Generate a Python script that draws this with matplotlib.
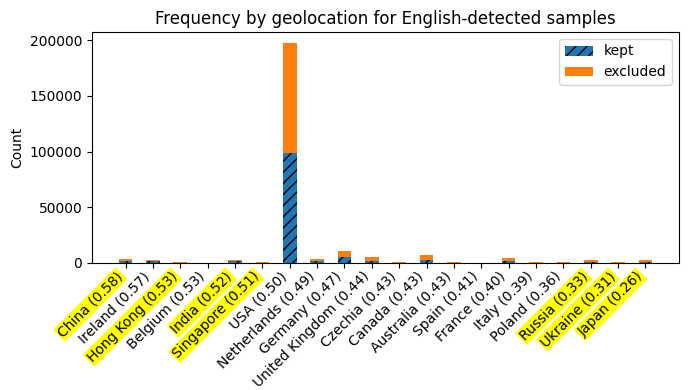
import matplotlib
matplotlib.use("Agg")
import matplotlib.pyplot as plt
import numpy as np

countries = ["China", "Ireland", "Hong Kong", "Belgium", "India", "Singapore", "USA",
             "Netherlands", "Germany", "United Kingdom", "Czechia", "Canada", "Australia",
             "Spain", "France", "Italy", "Poland", "Russia", "Ukraine", "Japan"]
scores = [0.58, 0.57, 0.53, 0.53, 0.52, 0.51, 0.50, 0.49, 0.47, 0.44, 0.43, 0.43, 0.43,
          0.41, 0.40, 0.39, 0.36, 0.33, 0.31, 0.26]
kept = [2000, 1500, 300, 50, 1500, 300, 98500, 2000, 5500, 2000, 200, 3000, 200,
        50, 1800, 200, 200, 1200, 200, 1200]
excluded = [1900, 1500, 900, 100, 1500, 900, 99000, 1800, 5500, 3800, 800, 4200, 800,
            100, 2700, 800, 800, 1600, 800, 1600]
highlighted = ["China", "Hong Kong", "India", "Singapore", "Russia", "Ukraine", "Japan"]

labels = [f"{c} ({s:.2f})" for c, s in zip(countries, scores)]
x = np.arange(len(countries))

fig, ax = plt.subplots(figsize=(6.9, 3.9), dpi=100)
fig.subplots_adjust(left=92/690, right=679/690, top=1-32/390, bottom=1-263/390)
ax.bar(x, kept, width=0.5, color="#1f77b4", hatch="///", label="kept")
ax.bar(x, excluded, width=0.5, bottom=kept, color="#ff7f0e", label="excluded")
ax.set_xticks(x)
ax.set_xticklabels(labels, rotation=45, ha="right")
ax.tick_params(axis="x", pad=1)
for lbl, c in zip(ax.get_xticklabels(), countries):
    if c in highlighted:
        lbl.set_bbox(dict(facecolor="yellow", edgecolor="none", pad=1))
ax.set_ylabel("Count")
ax.set_title("Frequency by geolocation for English-detected samples")
ax.legend(loc="upper right")
fig.savefig("out.png", dpi=100)
